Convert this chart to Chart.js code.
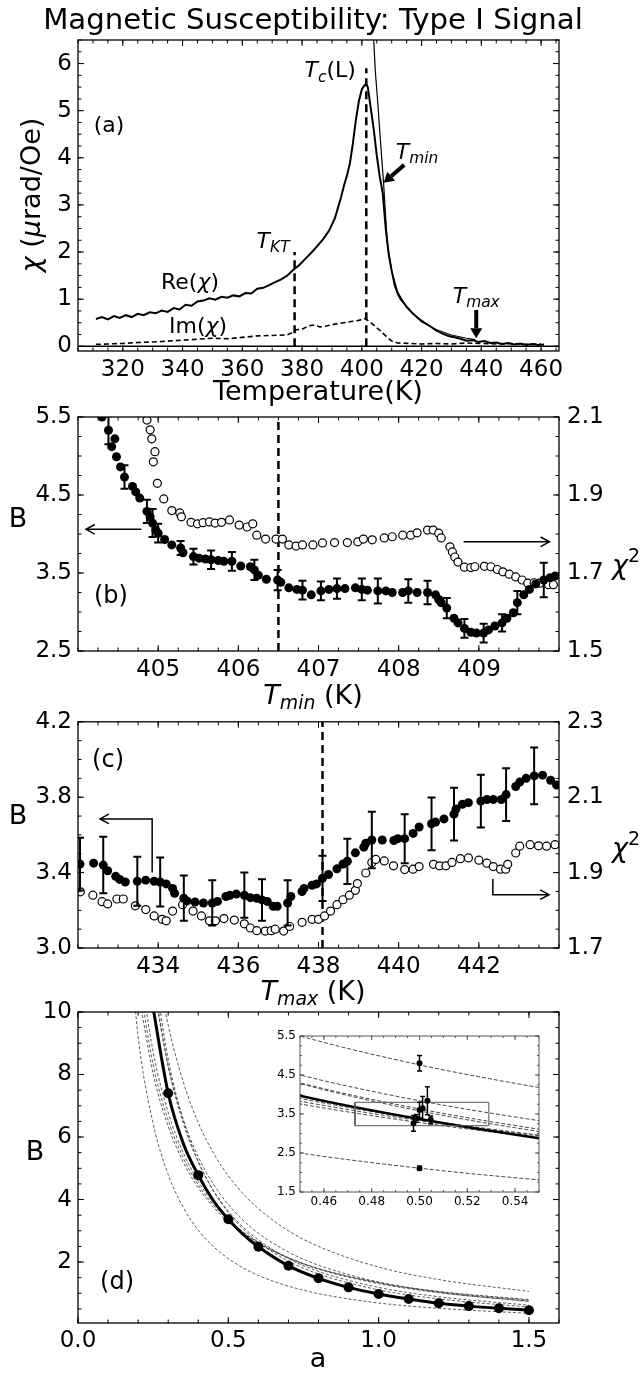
<!DOCTYPE html>
<html>
<head>
<meta charset="utf-8">
<title>Magnetic Susceptibility: Type I Signal</title>
<script src="https://cdn.jsdelivr.net/npm/chart.js@4.4.1/dist/chart.umd.min.js"></script>
<style>
  body { margin: 0; background: #fff; }
  #wrap { position: relative; width: 643px; height: 1374px; overflow: hidden; background: #fff; }
  #wrap canvas { position: absolute; }
</style>
</head>
<body>
<div id="wrap">
  <canvas id="chartA" width="643" height="410" style="left:0;top:0"></canvas>
  <canvas id="chartB" width="643" height="315" style="left:0;top:395px"></canvas>
  <canvas id="chartC" width="643" height="325" style="left:0;top:700px"></canvas>
  <canvas id="chartD" width="643" height="384" style="left:0;top:990px"></canvas>
  <canvas id="chartInset" width="300" height="200" style="left:250px;top:1016px"></canvas>
</div>
<script>
const n = null;

// (a) susceptibility vs temperature
const aReT = [311,313,315,317,319,321,323,325,327,329,331,333,335,337,339,341,343,345,347,349,
  351,353,355,357,359,361,363,365,367,369,371,373,375,377,379,381,383,385,387,389,391,393,
  394,395,396,397,398,399,400,401,401.5,402,403,404,405,406,407,408,409,410,411,412,413,414,415,
  417,419,421,423,425,427,429,431,433,435,437,439,441,443,445,447,449,451,453,455,457,459,461];
const aReChi = [0.58,0.62,0.57,0.64,0.60,0.66,0.62,0.69,0.66,0.72,0.70,0.76,0.73,0.81,0.78,0.88,0.86,0.95,0.97,1.02,
  0.99,1.05,1.03,1.08,1.06,1.13,1.12,1.22,1.24,1.30,1.36,1.42,1.50,1.62,1.72,1.85,1.98,2.12,2.27,2.45,2.72,3.15,
  3.40,3.62,3.88,4.30,4.80,5.20,5.45,5.55,5.56,5.50,5.05,4.60,4.05,3.60,3.25,2.50,1.95,1.60,1.30,1.12,1.00,0.92,0.84,
  0.70,0.59,0.50,0.42,0.33,0.27,0.22,0.19,0.16,0.12,0.13,0.09,0.11,0.07,0.08,0.05,0.07,0.04,0.06,0.03,0.05,0.03,0.04];
const aImT = [311,315,320,325,330,335,340,345,350,355,360,365,370,375,377,378,380,382,384,386,
  388,391,394,397,399,401,402,404,406,408,410,412,416,420,425,430,435,440,445,450,455,460];
const aImChi = [0.04,0.05,0.06,0.08,0.09,0.11,0.13,0.15,0.17,0.16,0.19,0.22,0.23,0.24,0.30,0.35,0.36,0.43,0.45,0.41,
  0.43,0.47,0.50,0.53,0.55,0.59,0.55,0.45,0.34,0.22,0.11,0.07,0.06,0.05,0.06,0.05,0.07,0.06,0.05,0.06,0.04,0.05];
const aFitT = [403.9,404.5,405.3,406.3,407.3,408.5,410,412,415,420,425,430,435,438];
const aFitChi = [6.6,5.85,5.2,4.3,3.45,2.2,1.6,1.15,0.82,0.52,0.35,0.24,0.17,0.14];
const aMarkT = [377.5, 401.5];      // T_KT, Tc(L)
const aMarkTop = [2.0, 5.9];
const aXTicks = [320,340,360,380,400,420,440,460];
const aYTicks = [0,1,2,3,4,5,6];

// (b) B and chi^2 vs T_min
const bT = [404.30,404.38,404.42,404.46,404.48,404.53,404.58,404.68,404.72,404.77,
  404.86,404.90,404.93,404.97,405.00,405.08,405.17,405.28,405.31,405.44,
  405.51,405.59,405.66,405.75,405.82,405.92,406.03,406.15,406.20,406.25,
  406.35,406.49,406.53,406.63,406.73,406.80,406.91,407.03,407.13,407.23,
  407.33,407.46,407.54,407.61,407.74,407.84,407.92,408.05,408.12,408.23,
  408.36,408.46,408.50,408.53,408.60,408.69,408.74,408.82,408.90,408.97,
  409.06,409.12,409.20,409.29,409.35,409.43,409.48,409.56,409.63,409.71,
  409.81,409.89,409.95];
const bB = [5.50,5.33,5.12,5.22,4.99,4.86,4.73,4.61,4.54,4.46,
  4.29,4.22,4.14,4.05,4.01,3.93,3.86,3.82,3.76,3.71,
  3.69,3.68,3.67,3.66,3.65,3.65,3.59,3.58,3.54,3.47,
  3.42,3.41,3.38,3.31,3.29,3.28,3.22,3.27,3.29,3.30,
  3.30,3.31,3.29,3.28,3.27,3.27,3.25,3.25,3.27,3.25,
  3.25,3.22,3.16,3.12,3.05,2.92,2.86,2.79,2.74,2.73,
  2.73,2.77,2.82,2.86,2.92,2.99,3.12,3.22,3.29,3.36,
  3.41,3.44,3.46];
const bErr = [n,0.18,n,n,n,n,0.15,n,n,n,
  0.15,n,0.18,n,0.12,n,n,0.09,n,0.10,
  n,n,0.12,n,n,0.12,n,n,0.13,n,
  n,0.13,n,n,n,0.12,n,0.12,n,0.13,
  n,n,0.14,n,0.16,n,n,n,0.15,n,
  0.15,n,n,n,0.13,n,n,0.12,n,n,
  0.12,n,n,0.11,n,n,0.15,n,n,n,
  0.22,n,n];
const bChiT = [404.86,404.90,404.92,404.94,404.96,404.99,405.07,405.17,405.27,405.29,
  405.41,405.49,405.56,405.64,405.71,405.79,405.89,406.01,406.11,406.18,
  406.23,406.34,406.47,406.55,406.63,406.72,406.80,406.93,407.05,407.20,
  407.36,407.49,407.56,407.67,407.82,407.92,408.05,408.15,408.23,408.36,
  408.43,408.50,408.53,408.64,408.67,408.70,408.74,408.82,408.90,408.95,
  409.07,409.15,409.23,409.30,409.38,409.46,409.54,409.61,409.69,409.76,
  409.87,409.93];
const bChi = [2.092,2.067,2.044,1.985,2.011,1.930,1.890,1.860,1.854,1.844,
  1.830,1.826,1.829,1.831,1.828,1.830,1.836,1.823,1.818,1.826,
  1.797,1.787,1.787,1.787,1.772,1.769,1.772,1.772,1.777,1.778,
  1.778,1.780,1.787,1.785,1.790,1.793,1.797,1.797,1.803,1.810,
  1.810,1.802,1.790,1.767,1.754,1.741,1.728,1.715,1.714,1.716,
  1.717,1.716,1.709,1.703,1.697,1.690,1.682,1.674,1.675,1.674,
  1.670,1.670];
const bMarkT = 406.5;
const bXTicks = [405,406,407,408,409];
const bYTicks = [2.5,3.5,4.5,5.5];
const bY2Ticks = [1.5,1.7,1.9,2.1];

// (c) B and chi^2 vs T_max
const cT = [432.05,432.39,432.63,432.74,432.94,433.04,433.18,433.48,433.69,433.90,
  434.05,434.20,434.36,434.41,434.64,434.72,434.92,435.13,435.35,435.48,
  435.69,435.79,435.95,436.15,436.30,436.46,436.59,436.72,436.87,436.97,
  437.23,437.31,437.59,437.64,437.84,437.95,438.10,438.25,438.46,438.61,
  438.72,438.92,439.13,439.18,439.33,439.59,439.88,439.98,440.15,440.36,
  440.51,440.82,440.92,441.13,441.38,441.43,441.59,441.74,442.05,442.20,
  442.36,442.56,442.68,442.92,443.02,443.18,443.38,443.59,443.79,443.94];
const cB = [3.445,3.45,3.44,3.41,3.38,3.364,3.35,3.354,3.36,3.354,
  3.35,3.34,3.316,3.29,3.264,3.25,3.244,3.239,3.239,3.247,
  3.273,3.28,3.286,3.28,3.267,3.264,3.255,3.247,3.221,3.221,
  3.239,3.273,3.30,3.316,3.333,3.34,3.37,3.39,3.42,3.445,
  3.46,3.505,3.535,3.556,3.573,3.573,3.57,3.58,3.58,3.608,
  3.642,3.659,3.668,3.685,3.71,3.737,3.762,3.771,3.779,3.788,
  3.788,3.788,3.814,3.857,3.88,3.90,3.913,3.917,3.89,3.865];
const cErr = [0.14,n,0.15,n,n,n,n,0.13,n,n,
  0.13,n,n,n,0.12,n,n,n,0.12,n,
  n,n,n,0.12,n,n,0.11,n,n,n,
  0.12,n,n,n,n,n,0.12,n,n,n,
  0.12,n,n,n,0.15,n,n,n,0.13,n,
  n,0.14,n,n,0.14,n,n,n,0.14,n,
  n,n,0.14,n,n,n,0.15,n,n,n];
const cChiT = [432.06,432.37,432.60,432.74,432.97,433.13,433.43,433.69,433.90,434.10,
  434.20,434.36,434.61,434.87,435.08,435.28,435.43,435.64,435.90,436.15,
  436.30,436.46,436.67,436.82,436.92,437.13,437.28,437.59,437.84,438.00,
  438.15,438.30,438.46,438.61,438.77,438.92,438.97,439.18,439.33,439.43,
  439.64,439.87,440.15,440.36,440.51,440.87,441.02,441.18,441.33,441.54,
  441.74,442.00,442.20,442.36,442.54,442.67,442.72,442.92,443.02,443.28,
  443.49,443.69,443.90];
const cChi = [1.849,1.840,1.823,1.817,1.830,1.830,1.812,1.802,1.785,1.776,
  1.772,1.798,1.815,1.798,1.785,1.772,1.772,1.778,1.774,1.764,
  1.753,1.746,1.745,1.746,1.750,1.745,1.757,1.768,1.776,1.776,
  1.785,1.798,1.815,1.828,1.840,1.853,1.871,1.899,1.927,1.935,
  1.931,1.918,1.908,1.909,1.916,1.922,1.918,1.918,1.927,1.937,
  1.939,1.933,1.925,1.916,1.909,1.909,1.922,1.952,1.970,1.974,
  1.971,1.970,1.974];
const cMarkT = 438.1;
const cXTicks = [434,436,438,440,442];
const cYTicks = [3.0,3.4,3.8,4.2];
const cY2Ticks = [1.7,1.9,2.1,2.3];

// (d) B vs a
const dDotA = [0.3,0.4,0.5,0.6,0.7,0.8,0.9,1.0,1.1,1.2,1.3,1.4,1.5];
const dDotB = [7.4,4.78,3.37,2.49,1.88,1.48,1.19,0.98,0.82,0.68,0.59,0.52,0.46];
const dFitA = [0.24,0.3,0.35,0.4,0.45,0.5,0.55,0.6,0.7,0.8,0.9,1.0,1.1,1.2,1.3,1.4,1.5];
const dFitB = [10.7,7.4,5.8,4.78,3.97,3.37,2.88,2.49,1.88,1.48,1.19,0.98,0.82,0.68,0.59,0.52,0.46];
const dGridA = [0.15,0.2,0.25,0.3,0.35,0.4,0.45,0.5,0.55,0.6,0.7,0.8,1.0,1.2,1.5];
const dCurve1 = [n,n,12.3,9.58,7.77,6.46,5.5,4.76,4.18,3.71,3.00,2.50,1.84,1.44,1.06];
const dCurve2 = [n,n,10.87,8.27,6.56,5.37,4.5,3.84,3.33,2.92,2.32,1.90,1.36,1.03,0.74];
const dCurve3 = [n,n,11.07,8.26,6.44,5.20,4.30,3.63,3.11,2.71,2.11,1.70,1.19,0.89,0.62];
const dCurve4 = [n,n,11.55,8.50,6.55,5.22,4.28,3.58,3.05,2.63,2.03,1.62,1.11,0.82,0.56];
const dCurve5 = [n,11.84,8.72,6.79,5.50,4.58,3.90,3.37,2.96,2.63,2.13,1.77,1.31,1.02,0.75];
const dCurve6 = [n,11.17,8.32,6.54,5.34,4.47,3.83,3.33,2.94,2.62,2.14,1.79,1.34,1.05,0.78];
const dCurve7 = [n,10.69,8.02,6.34,5.20,4.37,3.76,3.28,2.90,2.59,2.13,1.79,1.34,1.06,0.80];
const dCurve8 = [14.65,9.22,6.43,4.80,3.75,3.02,2.50,2.11,1.81,1.57,1.23,0.99,0.69,0.52,0.36];
const dXTicks = [0,0.5,1.0,1.5];
const dYTicks = [2,4,6,8,10];

// inset of (d)
const insetA = [0.5,0.5,0.4975,0.4987,0.5,0.5013,0.5033,0.5047];
const insetB = [4.8,2.11,3.26,3.39,3.6,3.65,3.84,3.35];
const insetErr = [0.2,0.05,0.2,0.1,0.2,0.3,0.36,0.1];
const insetBoxA = [0.473,0.529];
const insetBoxB = [3.2,3.8];
const insetXTicks = [0.46,0.48,0.50,0.52,0.54];
const insetYTicks = [1.5,2.5,3.5,4.5,5.5];

// ---------- helpers ----------
const FONT = '"DejaVu Sans", sans-serif';
Chart.defaults.font.family = FONT;
Chart.defaults.color = '#000';
Chart.defaults.animation = false;
Chart.defaults.events = [];
Chart.defaults.responsive = false;
Chart.defaults.plugins.legend.display = false;
Chart.defaults.plugins.tooltip.enabled = false;

const range = (a, b, s) => { const r = []; for (let i = 0; a + i * s <= b + s / 1000; i++) r.push(+(a + i * s).toFixed(4)); return r; };
const pts = (xs, ys) => xs.map((x, i) => ({ x, y: ys[i] })).filter(p => p.y != null);

function axis(position, min, max, ticks, digits, size, fontSize, pad) {
  return {
    type: 'linear', position, min, max,
    grid: { display: false, drawTicks: false },
    border: { display: false },
    afterBuildTicks: s => { s.ticks = ticks.map(v => ({ value: v })); },
    afterFit: s => { if (position === 'bottom') s.height = size; else s.width = size; },
    ticks: { autoSkip: false, maxRotation: 0, padding: pad, color: '#000',
             font: { size: fontSize }, callback: v => Number(v).toFixed(digits) }
  };
}

function line(data, w, dash, extra) {
  return Object.assign({ data, showLine: true, borderColor: '#000', borderWidth: w,
    borderDash: dash || [], pointRadius: 0 }, extra || {});
}

// inward ticks on every side plus the box
function frame(marks, o) {
  o = Object.assign({ color: '#000', width: 1.3, major: 6, minor: 3.5 }, o);
  return {
    id: 'frame',
    afterDatasetsDraw(chart) {
      const ctx = chart.ctx, a = chart.chartArea;
      ctx.save();
      ctx.strokeStyle = o.color;
      ctx.lineWidth = 1;
      ctx.beginPath();
      marks.forEach(m => {
        const s = chart.scales[m.scale];
        [[m.minor, o.minor], [m.major, o.major]].forEach(([vals, len]) => {
          vals.forEach(v => {
            if (v < s.min - 1e-9 || v > s.max + 1e-9) return;
            const p = s.getPixelForValue(v);
            m.sides.forEach(side => {
              if (side === 'bottom') { ctx.moveTo(p, a.bottom); ctx.lineTo(p, a.bottom - len); }
              if (side === 'top') { ctx.moveTo(p, a.top); ctx.lineTo(p, a.top + len); }
              if (side === 'left') { ctx.moveTo(a.left, p); ctx.lineTo(a.left + len, p); }
              if (side === 'right') { ctx.moveTo(a.right, p); ctx.lineTo(a.right - len, p); }
            });
          });
        });
      });
      ctx.stroke();
      ctx.lineWidth = o.width;
      ctx.strokeRect(a.left, a.top, a.right - a.left, a.bottom - a.top);
      ctx.restore();
    }
  };
}

// vertical error bars read from dataset.errors
const errbars = {
  id: 'errbars',
  afterDatasetsDraw(chart) {
    const ctx = chart.ctx, a = chart.chartArea;
    chart.data.datasets.forEach((ds, i) => {
      if (!ds.errors) return;
      const meta = chart.getDatasetMeta(i);
      const ys = chart.scales[meta.yAxisID];
      ctx.save();
      ctx.beginPath(); ctx.rect(a.left, a.top, a.right - a.left, a.bottom - a.top); ctx.clip();
      ctx.strokeStyle = '#000';
      ctx.lineWidth = ds.errWidth || 2;
      const c = ds.errCap || 4;
      ctx.beginPath();
      meta.data.forEach((pt, j) => {
        const e = ds.errors[j];
        if (e == null) return;
        const v = ds.data[j].y;
        const y1 = ys.getPixelForValue(v - e), y2 = ys.getPixelForValue(v + e);
        ctx.moveTo(pt.x, y1); ctx.lineTo(pt.x, y2);
        ctx.moveTo(pt.x - c, y1); ctx.lineTo(pt.x + c, y1);
        ctx.moveTo(pt.x - c, y2); ctx.lineTo(pt.x + c, y2);
      });
      ctx.stroke();
      ctx.restore();
    });
  }
};

// text made of pieces: [text, flags] with i = italic, s = subscript, p = superscript
function rich(ctx, parts, x, y, size, rot) {
  const fontOf = f => (f.includes('i') ? 'italic ' : '') +
    ((f.includes('s') || f.includes('p')) ? size * 0.7 : size) + 'px ' + FONT;
  let w = 0;
  const ws = parts.map(([t, f]) => { ctx.font = fontOf(f || ''); const m = ctx.measureText(t).width; w += m; return m; });
  ctx.save();
  ctx.translate(x, y);
  if (rot) ctx.rotate(rot);
  ctx.fillStyle = '#000';
  ctx.textAlign = 'left';
  ctx.textBaseline = 'middle';
  let cx = -w / 2;
  parts.forEach(([t, f], k) => {
    f = f || '';
    ctx.font = fontOf(f);
    const dy = f.includes('s') ? size * 0.28 : f.includes('p') ? -size * 0.38 : 0;
    ctx.fillText(t, cx, dy);
    cx += ws[k];
  });
  ctx.restore();
}

function arrow(ctx, P, st) {
  ctx.save();
  ctx.strokeStyle = '#000'; ctx.fillStyle = '#000';
  ctx.lineWidth = st.lw; ctx.lineJoin = 'miter';
  const k = P.length, [x1, y1] = P[k - 2], [x2, y2] = P[k - 1];
  const ang = Math.atan2(y2 - y1, x2 - x1), c = Math.cos(ang), s = Math.sin(ang);
  ctx.beginPath();
  ctx.moveTo(P[0][0], P[0][1]);
  for (let i = 1; i < k - 1; i++) ctx.lineTo(P[i][0], P[i][1]);
  if (st.fill) {
    const bx = x2 - st.head * c, by = y2 - st.head * s;
    ctx.lineTo(bx, by); ctx.stroke();
    ctx.beginPath();
    ctx.moveTo(x2, y2);
    ctx.lineTo(bx + st.hw / 2 * s, by - st.hw / 2 * c);
    ctx.lineTo(bx - st.hw / 2 * s, by + st.hw / 2 * c);
    ctx.closePath(); ctx.fill();
  } else {
    ctx.lineTo(x2, y2); ctx.stroke();
    ctx.beginPath();
    ctx.moveTo(x2 - st.head * Math.cos(ang - 0.5), y2 - st.head * Math.sin(ang - 0.5));
    ctx.lineTo(x2, y2);
    ctx.lineTo(x2 - st.head * Math.cos(ang + 0.5), y2 - st.head * Math.sin(ang + 0.5));
    ctx.stroke();
  }
  ctx.restore();
}

// labels and arrows; page positions are turned into canvas ones, data positions go through the scales
function notes(top, left, texts, arrows) {
  return {
    id: 'notes',
    afterDraw(chart) {
      const ctx = chart.ctx;
      (arrows || []).forEach(ar => {
        const ys = chart.scales[ar.axis || 'y'];
        const P = ar.pts.map(([x, y]) => [chart.scales.x.getPixelForValue(x), ys.getPixelForValue(y)]);
        arrow(ctx, P, ar);
      });
      texts.forEach(t => {
        let x = t.x, y = t.y;
        if (t.data) { x = chart.scales.x.getPixelForValue(x); y = chart.scales[t.axis || 'y'].getPixelForValue(y); }
        else { x -= left; y -= top; }
        rich(ctx, t.p, x, y, t.size, t.rot);
      });
    }
  };
}

// ---------- (a) ----------
new Chart(document.getElementById('chartA'), {
  type: 'scatter',
  data: { datasets: [
    line(pts(aReT, aReChi), 2),
    line(pts(aFitT, aFitChi), 1.2),
    line(pts(aImT, aImChi), 1.6, [5, 3]),
    ...aMarkT.map((t, i) => line([{ x: t, y: 0 }, { x: t, y: aMarkTop[i] }], 2.5, [8, 5])),
    line([{ x: 305, y: 0 }, { x: 466, y: 0 }], 1.5)
  ]},
  options: {
    layout: { padding: { top: 40, right: 84, left: 0, bottom: 0 } },
    scales: {
      x: axis('bottom', 305, 466, aXTicks, 0, 59, 23, 5),
      y: axis('left', -0.1, 6.5, aYTicks, 0, 78, 23, 6)
    }
  },
  plugins: [
    frame([
      { scale: 'x', major: aXTicks, minor: range(305, 466, 5), sides: ['bottom', 'top'] },
      { scale: 'y', major: aYTicks, minor: range(0, 6.5, 0.25), sides: ['left', 'right'] }
    ]),
    notes(0, 0, [
      { p: [['Magnetic Susceptibility: Type I Signal']], x: 313, y: 21, size: 29.2 },
      { p: [['Temperature(K)']], x: 318, y: 393, size: 27 },
      { p: [['χ', 'i'], [' ('], ['μ', 'i'], ['rad/Oe)']], x: 33, y: 195, size: 27, rot: -Math.PI / 2 },
      { p: [['(a)']], x: 315.4, y: 4.66, data: true, size: 22 },
      { p: [['T', 'i'], ['c', 'is'], ['(L)']], x: 389.4, y: 5.83, data: true, size: 22 },
      { p: [['T', 'i'], ['min', 'is']], x: 418.5, y: 4.1, data: true, size: 22 },
      { p: [['T', 'i'], ['KT', 'is']], x: 370.3, y: 2.21, data: true, size: 22 },
      { p: [['Re('], ['χ', 'i'], [')']], x: 342.5, y: 1.34, data: true, size: 22 },
      { p: [['Im('], ['χ', 'i'], [')']], x: 345.2, y: 0.40, data: true, size: 22 },
      { p: [['T', 'i'], ['max', 'is']], x: 438.3, y: 1.04, data: true, size: 22 }
    ], [
      { pts: [[414.2, 3.85], [407.3, 3.47]], fill: true, lw: 4, head: 10, hw: 12 },
      { pts: [[438.3, 0.77], [438.3, 0.17]], fill: true, lw: 4, head: 10, hw: 12 }
    ])
  ]
});

// ---------- (b) ----------
new Chart(document.getElementById('chartB'), {
  type: 'scatter',
  data: { datasets: [
    { data: pts(bT, bB), errors: bErr, yAxisID: 'y', pointRadius: 4.5, pointBackgroundColor: '#000', pointBorderWidth: 0 },
    { data: pts(bChiT, bChi), yAxisID: 'y2', pointRadius: 4, pointBackgroundColor: '#fff', pointBorderColor: '#000', pointBorderWidth: 1.2 },
    line([{ x: bMarkT, y: 2.5 }, { x: bMarkT, y: 5.5 }], 2.5, [8, 5])
  ]},
  options: {
    layout: { padding: { top: 22, right: 0, left: 0, bottom: 0 } },
    scales: {
      x: axis('bottom', 404, 410, bXTicks, 0, 59, 23, 5),
      y: axis('left', 2.5, 5.5, bYTicks, 1, 78, 23, 6),
      y2: axis('right', 1.5, 2.1, bY2Ticks, 1, 84, 23, 8)
    }
  },
  plugins: [
    errbars,
    frame([
      { scale: 'x', major: bXTicks, minor: range(404, 410, 0.25), sides: ['bottom', 'top'] },
      { scale: 'y', major: bYTicks, minor: range(2.5, 5.5, 0.25), sides: ['left'] },
      { scale: 'y2', major: bY2Ticks, minor: range(1.5, 2.1, 0.05), sides: ['right'] }
    ]),
    notes(395, 0, [
      { p: [['B']], x: 18, y: 520, size: 27 },
      { p: [['χ', 'i'], ['2', 'p']], x: 626, y: 567, size: 27 },
      { p: [['T', 'i'], ['min', 'is'], [' (K)']], x: 313, y: 697, size: 27 },
      { p: [['(b)']], x: 404.41, y: 3.19, data: true, size: 24 }
    ], [
      { pts: [[404.79, 4.06], [404.1, 4.06]], lw: 1.5, head: 10 },
      { pts: [[408.81, 3.9], [409.88, 3.9]], lw: 1.5, head: 10 }
    ])
  ]
});

// ---------- (c) ----------
new Chart(document.getElementById('chartC'), {
  type: 'scatter',
  data: { datasets: [
    { data: pts(cT, cB), errors: cErr, yAxisID: 'y', pointRadius: 4.5, pointBackgroundColor: '#000', pointBorderWidth: 0 },
    { data: pts(cChiT, cChi), yAxisID: 'y2', pointRadius: 4, pointBackgroundColor: '#fff', pointBorderColor: '#000', pointBorderWidth: 1.2 },
    line([{ x: cMarkT, y: 3.0 }, { x: cMarkT, y: 4.2 }], 2.5, [8, 5])
  ]},
  options: {
    layout: { padding: { top: 15, right: 0, left: 0, bottom: 0 } },
    scales: {
      x: axis('bottom', 432, 444, cXTicks, 0, 77, 23, 5),
      y: axis('left', 3.0, 4.2, cYTicks, 1, 78, 23, 6),
      y2: axis('right', 1.7, 2.3, cY2Ticks, 1, 84, 23, 8)
    }
  },
  plugins: [
    errbars,
    frame([
      { scale: 'x', major: cXTicks, minor: range(432, 444, 0.5), sides: ['bottom', 'top'] },
      { scale: 'y', major: cYTicks, minor: range(3.0, 4.2, 0.1), sides: ['left'] },
      { scale: 'y2', major: cY2Ticks, minor: range(1.7, 2.3, 0.05), sides: ['right'] }
    ]),
    notes(700, 0, [
      { p: [['B']], x: 18, y: 817, size: 27 },
      { p: [['χ', 'i'], ['2', 'p']], x: 626, y: 850, size: 27 },
      { p: [['T', 'i'], ['max', 'is'], [' (K)']], x: 313, y: 993, size: 27 },
      { p: [['(c)']], x: 432.75, y: 3.994, data: true, size: 24 }
    ], [
      { pts: [[433.85, 3.40], [433.85, 3.685], [432.55, 3.685]], lw: 1.5, head: 10 },
      { pts: [[442.35, 3.366], [442.35, 3.283], [443.75, 3.283]], lw: 1.5, head: 10 }
    ])
  ]
});

// ---------- (d) ----------
const dCurves = [dCurve1, dCurve2, dCurve3, dCurve4, dCurve5, dCurve6, dCurve7, dCurve8];
new Chart(document.getElementById('chartD'), {
  type: 'scatter',
  data: { datasets: [
    { data: pts(dDotA, dDotB), pointRadius: 5, pointBackgroundColor: '#000', pointBorderWidth: 0 },
    line(pts(dFitA, dFitB), 3, [], { cubicInterpolationMode: 'monotone' }),
    ...dCurves.map(c => line(pts(dGridA, c), 0.8, [3, 2], { borderColor: '#333', cubicInterpolationMode: 'monotone' }))
  ]},
  options: {
    layout: { padding: { top: 22, right: 84, left: 0, bottom: 0 } },
    scales: {
      x: axis('bottom', 0, 1.6, dXTicks, 1, 51, 23, 4),
      y: axis('left', 0.05, 10, dYTicks, 0, 78, 23, 6)
    }
  },
  plugins: [
    frame([
      { scale: 'x', major: dXTicks, minor: range(0, 1.6, 0.1), sides: ['bottom', 'top'] },
      { scale: 'y', major: dYTicks, minor: range(0.5, 10, 0.5), sides: ['left', 'right'] }
    ]),
    notes(990, 0, [
      { p: [['B']], x: 35, y: 1153, size: 27 },
      { p: [['a']], x: 318, y: 1360, size: 27 },
      { p: [['(d)']], x: 0.13, y: 1.33, data: true, size: 24 }
    ])
  ]
});

// ---------- inset ----------
new Chart(document.getElementById('chartInset'), {
  type: 'scatter',
  data: { datasets: [
    { data: pts(insetA, insetB), errors: insetErr, errWidth: 1.5, errCap: 2.5, pointRadius: 3, pointBackgroundColor: '#000', pointBorderWidth: 0 },
    line([{ x: insetBoxA[0], y: insetBoxB[0] }, { x: insetBoxA[1], y: insetBoxB[0] }, { x: insetBoxA[1], y: insetBoxB[1] },
          { x: insetBoxA[0], y: insetBoxB[1] }, { x: insetBoxA[0], y: insetBoxB[0] }], 1, [], { borderColor: '#555' }),
    line(pts(dFitA, dFitB), 2.5, [], { cubicInterpolationMode: 'monotone' }),
    ...dCurves.map(c => line(pts(dGridA, c), 0.9, [4, 2], { borderColor: '#333', cubicInterpolationMode: 'monotone' }))
  ]},
  options: {
    layout: { padding: { top: 20, right: 11, left: 0, bottom: 0 } },
    scales: {
      x: axis('bottom', 0.45, 0.55, insetXTicks, 2, 24, 12, 3),
      y: axis('left', 1.5, 5.5, insetYTicks, 1, 50, 12, 4)
    }
  },
  plugins: [
    errbars,
    frame([
      { scale: 'x', major: insetXTicks, minor: range(0.45, 0.55, 0.005), sides: ['bottom', 'top'] },
      { scale: 'y', major: insetYTicks, minor: range(1.5, 5.5, 0.25), sides: ['left', 'right'] }
    ], { color: '#555', width: 1, major: 4, minor: 2 })
  ]
});
</script>
</body>
</html>
